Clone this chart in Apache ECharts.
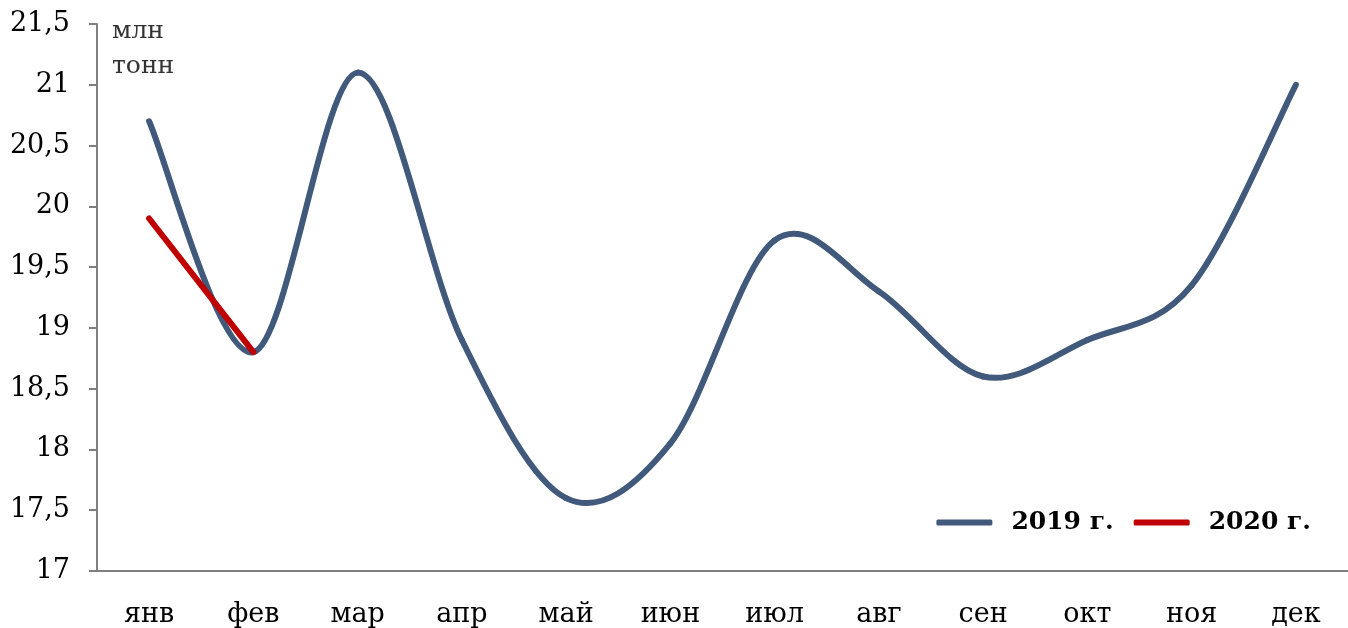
<!DOCTYPE html>
<html><head><meta charset="utf-8">
<script src="https://cdn.jsdelivr.net/npm/echarts@6/dist/echarts.min.js"></script>
<style>html,body{margin:0;padding:0;background:#fff}#c{width:1348px;height:628px}</style>
</head><body><div id="c"></div>
<script>
const categories = ['янв','фев','мар','апр','май','июн','июл','авг','сен','окт','ноя','дек'];
const series2019 = [20.7, 18.8, 21.1, 18.9, 17.6, 18.05, 19.72, 19.3, 18.6, 18.9, 19.35, 21.0];
const series2020 = [19.9, 18.8];
const unitLabel = 'млн\nтонн';
const FONT = 'DejaVu Serif';
const BLUE = '#41597b', RED = '#c00000';

// Catmull-Rom style smooth segment (Excel-like smoothing) drawn through the axis scales
function smoothSegment(values, color) {
  return function (params, api) {
    const i = params.dataIndex;
    if (i >= values.length - 1) return null;
    const p = k => api.coord([Math.max(0, Math.min(values.length - 1, k)), values[Math.max(0, Math.min(values.length - 1, k))]]);
    const p0 = p(i - 1), p1 = p(i), p2 = p(i + 1), p3 = p(i + 2);
    return {
      type: 'bezierCurve',
      shape: {
        x1: p1[0], y1: p1[1], x2: p2[0], y2: p2[1],
        cpx1: p1[0] + (p2[0] - p0[0]) / 6, cpy1: p1[1] + (p2[1] - p0[1]) / 6,
        cpx2: p2[0] - (p3[0] - p1[0]) / 6, cpy2: p2[1] - (p3[1] - p1[1]) / 6
      },
      style: { stroke: color, lineWidth: 6, fill: 'none', lineCap: 'round' }
    };
  };
}

const chart = echarts.init(document.getElementById('c'), null, {renderer:'canvas'});
chart.setOption({
  animation:false,
  textStyle:{fontFamily:FONT},
  grid:{left:97, right:-2, top:24, bottom:57, containLabel:false},
  legend:{
    right:32, top:505, itemWidth:56, itemHeight:6, itemGap:20, icon:'roundRect',
    textStyle:{fontFamily:FONT, fontWeight:'bold', fontSize:25, color:'#000', padding:[0,0,0,14]},
    data:[{name:'2019 г.', itemStyle:{color:BLUE}}, {name:'2020 г.', itemStyle:{color:RED}}]
  },
  xAxis:{
    type:'category', data:categories, boundaryGap:true,
    axisLine:{lineStyle:{color:'#7f7f7f', width:2}},
    axisTick:{alignWithLabel:true, length:8, lineStyle:{color:'#7f7f7f', width:2}},
    axisLabel:{fontFamily:FONT, fontSize:27, color:'#000', margin:30},
  },
  yAxis:{
    type:'value', min:17, max:21.5, interval:0.5,
    name:unitLabel, nameLocation:'end',
    nameTextStyle:{fontFamily:FONT, fontSize:25, color:'#333', align:'left', verticalAlign:'top', padding:[0,0,0,15], lineHeight:35},
    nameGap:10,
    splitLine:{show:false},
    axisLine:{show:true, lineStyle:{color:'#7f7f7f', width:2}},
    axisTick:{show:true, length:8, lineStyle:{color:'#7f7f7f', width:2}},
    axisLabel:{fontFamily:FONT, fontSize:27, color:'#000', margin:27,
      formatter:v=>String(v).replace('.',',')}
  },
  series:[
    {name:'2019 г.', type:'custom', data:series2019.map((v,i)=>[i,v]),
     encode:{x:0, y:1}, renderItem:smoothSegment(series2019, BLUE),
     itemStyle:{color:BLUE}},
    {name:'2020 г.', type:'line', data:series2020, smooth:false, symbol:'none',
     lineStyle:{color:RED, width:6, cap:'round'}, itemStyle:{color:RED}}
  ]
});
</script></body></html>
